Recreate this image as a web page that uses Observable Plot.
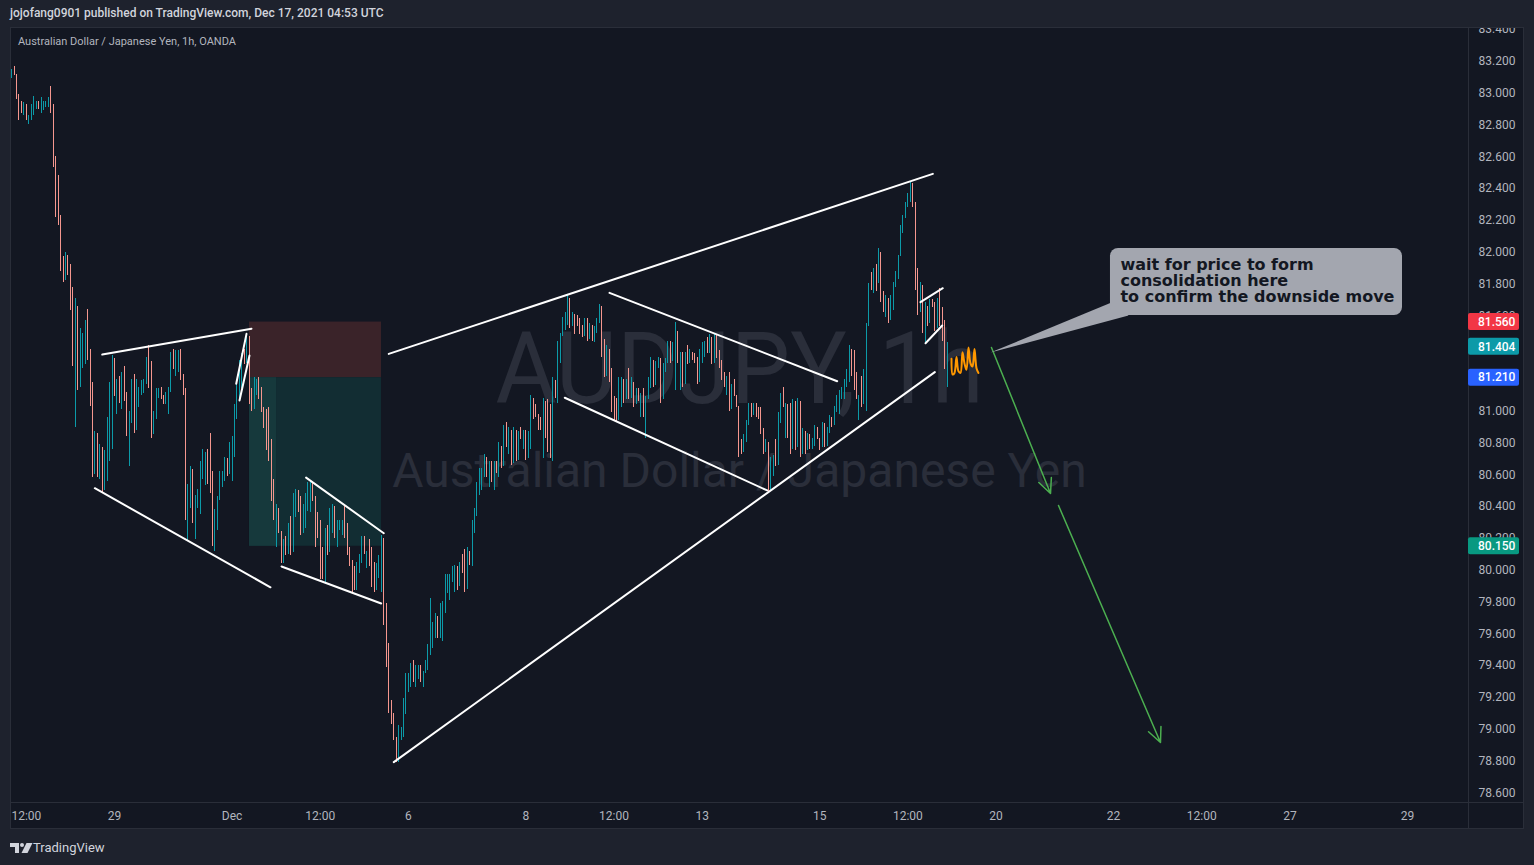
<!DOCTYPE html>
<html>
<head>
<meta charset="utf-8">
<script src="https://cdn.jsdelivr.net/npm/d3@7"></script>
<script src="https://cdn.jsdelivr.net/npm/@observablehq/plot@0.6"></script>
<style>
  html, body { margin:0; padding:0; width:1534px; height:865px; background:#1e222d; overflow:hidden; font-family: Roboto, "Noto Sans", sans-serif; }
  #header { position:absolute; left:10px; top:6px; font-size:12px; font-weight:500; color:#d1d4dc; white-space:nowrap; }
  #frame { position:absolute; left:10px; top:27px; width:1514px; height:802px; background:#131722; }
  #frame svg { position:absolute; left:0; top:0; }
  #legend { position:absolute; left:8px; top:8px; font-size:11px; color:#b2b5be; white-space:nowrap; z-index:2; }
  #border { position:absolute; left:0; top:0; width:1514px; height:802px; box-sizing:border-box; border:1px solid #2a2e39; pointer-events:none; z-index:3; }
  #footer { position:absolute; left:10px; top:840px; display:flex; align-items:center; gap:0px; color:#d1d4dc; font-size:13px; }
</style>
</head>
<body>
<div id="header">jojofang0901 published on TradingView.com, Dec 17, 2021 04:53 UTC</div>
<div id="frame">
  <div id="legend">Australian Dollar / Japanese Yen, 1h, OANDA</div>
  <div id="border"></div>
</div>
<div id="footer">
  <svg width="23" height="12" viewBox="0 0 23 12"><path d="M0 1h9v10h-4v-6h-5z" fill="#d1d4dc"/><circle cx="12" cy="3" r="2" fill="#d1d4dc"/><path d="M16.5 1h6l-5 10h-6z" fill="#d1d4dc"/></svg>
  <span>TradingView</span>
</div>
<script>
// ---------- hourly AUD/JPY bars (first bar = 42 trading hours before Nov 29 00:00) ----------
const firstBarHour = -42;
const firstOpen = 83.12;
const highs = [
83.15,83.17,83.12,82.99,82.95,82.94,82.93,82.86,82.93,82.98,
82.95,82.95,82.97,82.95,82.95,82.97,83.04,82.93,82.60,82.48,
82.23,81.97,82.00,81.94,81.92,81.78,81.71,81.66,81.52,81.49,
81.57,81.64,81.39,81.18,80.87,80.86,80.79,80.70,80.75,80.96,
81.18,81.35,81.31,81.20,81.22,81.24,81.28,81.12,81.00,81.20,
81.23,81.20,81.15,81.19,81.20,81.34,81.41,81.31,81.00,81.14,
81.14,81.15,81.10,81.12,81.15,81.37,81.39,81.38,81.38,81.39,
81.23,81.14,80.54,80.65,80.63,80.47,80.51,80.68,80.76,80.74,
80.76,80.86,80.62,80.38,80.46,80.62,80.62,80.71,80.70,80.80,
80.84,81.04,81.18,81.32,81.36,81.39,81.49,81.38,81.14,81.21,
81.20,81.21,81.15,81.02,81.01,81.02,80.82,80.57,80.41,80.35,
80.23,80.19,80.21,80.29,80.34,80.48,80.51,80.48,80.46,80.41,
80.48,80.55,80.56,80.54,80.46,80.36,80.31,80.14,80.26,80.28,
80.39,80.41,80.31,80.31,80.31,80.31,80.41,80.29,80.14,80.06,
80.02,80.05,80.10,80.21,80.21,80.12,80.19,80.14,80.05,80.04,
80.09,80.22,80.14,79.79,79.54,79.18,79.10,78.95,79.02,79.01,
79.19,79.35,79.35,79.41,79.43,79.40,79.40,79.40,79.36,79.43,
79.53,79.82,79.67,79.73,79.67,79.79,79.80,79.97,79.97,79.97,
80.02,80.03,79.97,80.05,80.10,80.13,80.14,80.11,80.31,80.39,
80.55,80.64,80.64,80.73,80.68,80.68,80.68,80.68,80.68,80.80,
80.78,80.91,80.93,80.90,80.87,80.90,80.87,80.87,80.90,80.88,
80.88,80.87,81.10,81.05,81.04,80.98,80.96,81.08,80.93,81.07,
81.04,81.21,81.19,81.44,81.49,81.59,81.62,81.73,81.61,81.62,
81.60,81.60,81.58,81.54,81.58,81.58,81.55,81.54,81.53,81.58,
81.67,81.61,81.45,81.41,81.34,81.27,81.09,81.08,81.21,81.21,
81.14,81.20,81.27,81.21,81.13,81.14,81.14,81.11,81.14,81.09,
81.21,81.34,81.27,81.31,81.34,81.31,81.30,81.33,81.44,81.44,
81.43,81.56,81.49,81.37,81.37,81.37,81.41,81.39,81.37,81.36,
81.34,81.39,81.43,81.44,81.46,81.48,81.43,81.49,81.44,81.38,
81.32,81.24,81.22,81.24,81.17,81.20,81.10,80.97,80.82,80.85,
80.94,81.05,81.05,81.05,81.05,81.02,81.02,80.89,80.82,80.75,
80.71,80.72,80.82,80.99,81.11,81.15,81.05,81.02,81.05,81.07,
81.02,81.08,80.98,80.89,80.83,80.86,80.85,80.83,80.91,80.90,
80.83,80.93,80.87,80.90,80.97,80.95,81.03,81.10,81.13,81.15,
81.20,81.26,81.41,81.35,81.38,81.24,81.10,81.22,81.26,81.55,
81.80,81.87,81.90,81.92,82.02,81.97,81.75,81.73,81.71,81.73,
81.81,81.88,81.98,82.17,82.23,82.31,82.37,82.44,82.40,82.31,
81.90,81.81,81.70,81.68,81.63,81.70,81.70,81.68,81.71,81.77,
81.65,81.57,81.43
];
const lows = [
83.09,83.11,82.96,82.83,82.87,82.86,82.83,82.80,82.83,82.86,
82.90,82.90,82.87,82.89,82.91,82.91,82.87,82.53,82.22,82.17,
81.88,81.81,81.85,81.85,81.63,81.28,80.90,81.13,81.22,81.27,
81.29,81.32,81.03,80.58,80.63,80.58,80.57,80.48,80.52,80.56,
80.68,80.76,81.09,80.98,81.05,81.01,81.06,80.84,80.65,80.92,
80.86,80.91,81.02,81.10,81.11,81.17,81.14,80.83,80.85,80.95,
81.08,81.07,81.04,81.04,80.98,81.12,81.26,81.22,81.24,81.19,
81.10,80.31,80.18,80.39,80.29,80.19,80.39,80.35,80.57,80.53,
80.54,80.48,80.15,80.12,80.25,80.44,80.52,80.56,80.59,80.61,
80.56,80.71,80.95,81.07,81.14,81.29,81.31,81.04,81.00,81.05,
81.10,81.07,80.99,80.89,80.75,80.68,80.43,80.31,80.14,80.23,
80.04,80.04,80.09,80.14,80.09,80.15,80.33,80.36,80.22,80.23,
80.26,80.37,80.36,80.43,80.14,80.20,79.94,79.94,79.92,80.09,
80.13,80.23,80.20,80.14,80.25,80.22,80.20,80.09,80.02,79.85,
79.87,79.87,79.98,80.04,80.10,80.01,80.02,79.89,79.86,79.87,
79.95,79.86,79.65,79.39,79.10,79.03,78.93,78.79,78.79,78.93,
78.95,79.09,79.23,79.26,79.29,79.26,79.31,79.29,79.26,79.37,
79.37,79.46,79.51,79.57,79.57,79.57,79.55,79.73,79.85,79.81,
79.92,79.86,79.87,79.95,79.98,79.86,79.92,80.03,80.02,80.23,
80.34,80.47,80.50,80.58,80.58,80.52,80.55,80.50,80.61,80.58,
80.64,80.73,80.77,80.73,80.66,80.72,80.68,80.76,80.82,80.76,
80.69,80.73,80.76,80.95,80.96,80.88,80.88,80.70,80.83,80.74,
80.70,80.68,81.08,81.05,81.30,81.48,81.51,81.54,81.52,81.53,
81.48,81.53,81.48,81.46,81.47,81.44,81.48,81.44,81.43,81.49,
81.55,81.34,81.21,81.22,81.18,80.99,80.94,80.93,80.95,81.02,
81.05,81.12,81.07,81.08,81.02,81.09,81.06,80.96,80.96,80.83,
81.08,81.14,81.15,81.21,81.27,81.05,81.19,81.24,81.30,81.30,
81.32,81.13,81.30,81.13,81.15,81.28,81.29,81.31,81.32,81.30,
81.17,81.27,81.30,81.34,81.36,81.36,81.29,81.41,81.33,81.27,
81.19,81.15,81.10,81.00,81.09,81.09,81.02,80.71,80.73,80.74,
80.80,80.91,80.96,80.97,80.96,80.95,80.85,80.73,80.74,80.48,
80.61,80.59,80.65,80.70,80.92,81.02,80.83,80.83,80.73,80.96,
80.75,80.82,80.71,80.76,80.73,80.76,80.76,80.76,80.78,80.82,
80.75,80.83,80.77,80.78,80.86,80.90,80.93,80.99,80.98,81.07,
81.07,81.15,81.18,81.22,81.13,81.07,80.94,81.02,81.11,81.00,
81.53,81.76,81.74,81.75,81.80,81.68,81.62,81.59,81.55,81.65,
81.63,81.78,81.83,82.01,82.12,82.21,82.28,82.31,82.28,81.76,
81.60,81.65,81.49,81.43,81.53,81.59,81.65,81.50,81.57,81.53,
81.44,81.26,81.15
];
const closes = [
83.14,83.12,82.97,82.90,82.88,82.93,82.84,82.85,82.92,82.93,
82.94,82.91,82.93,82.94,82.95,82.96,82.88,82.55,82.24,82.18,
81.89,81.82,81.98,81.86,81.64,81.30,81.45,81.15,81.40,81.47,
81.55,81.34,81.05,80.60,80.85,80.60,80.77,80.50,80.73,80.94,
81.16,81.33,81.11,81.18,81.07,81.22,81.08,80.86,80.98,81.18,
80.88,81.10,81.14,81.18,81.19,81.32,81.16,80.85,80.98,81.12,
81.13,81.08,81.05,81.11,81.14,81.35,81.27,81.36,81.37,81.21,
81.11,80.33,80.52,80.63,80.31,80.45,80.50,80.66,80.70,80.73,
80.56,80.50,80.17,80.36,80.44,80.60,80.61,80.69,80.60,80.78,
80.82,81.02,81.16,81.30,81.34,81.30,81.47,81.06,81.01,81.15,
81.19,81.08,81.00,80.90,80.77,80.70,80.45,80.33,80.39,80.24,
80.05,80.17,80.10,80.27,80.11,80.46,80.50,80.37,80.24,80.39,
80.46,80.53,80.55,80.44,80.30,80.22,79.96,79.95,80.24,80.11,
80.37,80.40,80.21,80.29,80.30,80.31,80.21,80.10,80.03,79.95,
79.88,80.03,80.09,80.19,80.11,80.12,80.03,79.90,79.87,80.02,
80.08,80.20,79.67,79.41,79.12,79.04,78.94,78.80,79.00,79.01,
79.17,79.33,79.34,79.40,79.30,79.38,79.39,79.30,79.35,79.42,
79.51,79.60,79.65,79.71,79.60,79.77,79.79,79.95,79.96,79.97,
80.01,80.02,79.90,80.04,79.99,79.88,80.12,80.04,80.29,80.37,
80.53,80.62,80.63,80.71,80.59,80.66,80.56,80.66,80.62,80.78,
80.65,80.89,80.78,80.88,80.67,80.88,80.69,80.85,80.83,80.87,
80.70,80.85,81.08,81.00,80.97,80.89,80.88,81.06,80.85,80.76,
80.72,81.19,81.09,81.42,81.47,81.58,81.61,81.71,81.53,81.61,
81.56,81.54,81.49,81.47,81.56,81.45,81.53,81.45,81.52,81.57,
81.66,81.36,81.23,81.39,81.19,81.00,80.95,80.94,81.19,81.20,
81.07,81.18,81.08,81.18,81.04,81.12,81.07,81.10,80.98,81.07,
81.19,81.32,81.16,81.29,81.33,81.07,81.28,81.32,81.42,81.31,
81.41,81.50,81.32,81.35,81.17,81.35,81.30,81.37,81.33,81.31,
81.18,81.37,81.41,81.43,81.37,81.46,81.30,81.48,81.34,81.28,
81.20,81.16,81.21,81.01,81.16,81.10,81.03,80.79,80.74,80.84,
80.93,81.04,80.98,81.03,80.98,80.96,80.86,80.74,80.80,80.50,
80.70,80.71,80.66,80.98,81.09,81.03,81.04,80.85,80.76,81.06,
80.77,81.06,80.73,80.87,80.75,80.85,80.77,80.82,80.90,80.83,
80.77,80.92,80.78,80.89,80.96,80.91,81.02,81.09,81.12,81.14,
81.19,81.25,81.39,81.24,81.15,81.08,81.09,81.04,81.25,81.53,
81.78,81.77,81.89,81.80,82.00,81.70,81.63,81.70,81.57,81.72,
81.80,81.87,81.97,82.16,82.22,82.30,82.36,82.43,82.30,81.78,
81.62,81.79,81.51,81.66,81.55,81.68,81.66,81.52,81.69,81.55,
81.46,81.28,81.404
];

// ---------- axes ----------
const yTickValues = [83.4,83.2,83.0,82.8,82.6,82.4,82.2,82.0,81.8,81.6,81.4,81.2,81.0,80.8,80.6,80.4,80.2,80.0,79.8,79.6,79.4,79.2,79.0,78.8,78.6];
const xTickDays = [-1.5,0,2,3.5,5,7,8.5,10,12,13.5,15,17,18.5,20,22];
const xTickLabels = ["12:00","29","Dec","12:00","6","8","12:00","13","15","12:00","20","22","12:00","27","29"];

// ---------- drawings (time in trading days from Nov 29, price) ----------
const lineStartT = [-0.209,-0.335,2.071,2.127,3.260,2.842,4.667,4.752,8.423,7.662,13.714,13.800];
const lineStartP = [81.356,80.515,81.172,81.067,80.582,80.023,81.360,78.792,81.744,81.084,81.685,81.427];
const lineEndT   = [2.331,2.654,2.246,2.297,4.582,4.538,13.924,13.958,12.297,11.106,14.094,14.084];
const lineEndP   = [81.518,79.892,81.486,81.350,80.232,79.790,82.492,81.245,81.188,80.501,81.773,81.538];

const squiggleT = [14.242,14.262,14.293,14.327,14.361,14.395,14.429,14.463,14.497,14.531,14.565,14.599,14.633,14.667,14.701];
const squiggleP = [81.330,81.230,81.240,81.340,81.250,81.240,81.370,81.300,81.260,81.400,81.300,81.280,81.390,81.270,81.240];

const arrowStartT = [14.922,16.063];
const arrowStartP = [81.400,80.406];
const arrowEndT   = [15.927,17.798];
const arrowEndP   = [80.482,78.916];

const positionStartT = 2.297, positionEndT = 4.543, positionRealizedT = 2.757;
const stopPrice = 81.56, entryPrice = 81.21, targetPrice = 80.15, lastPrice = 81.404;

const calloutText = "wait for price to form\nconsolidation here\nto confirm the downside move";
const calloutT1 = 16.947, calloutT2 = 21.916, calloutTop = 82.023, calloutBottom = 81.601;
const calloutTailT = [14.905,16.964,17.254];
const calloutTailP = [81.368,81.683,81.601];

const watermarkTitle = "AUDJPY, 1h";
const watermarkSubtitle = "Australian Dollar / Japanese Yen";

// ---------- build ----------
const UP = "#0c9aa8", DOWN = "#f5978f";
const bars = highs.map((h, i) => {
  const open = i === 0 ? firstOpen : closes[i - 1];
  const close = closes[i];
  return {t: (firstBarHour + i) / 24, open, close, high: h, low: lows[i], up: close >= open};
});
const trendLines = lineStartT.map((t, i) => ({t1: t, p1: lineStartP[i], t2: lineEndT[i], p2: lineEndP[i]}));
const squiggle = squiggleT.map((t, i) => ({t, p: squiggleP[i]}));
const arrows = arrowStartT.map((t, i) => ({t1: t, p1: arrowStartP[i], t2: arrowEndT[i], p2: arrowEndP[i]}));
const zones = [
  {t1: positionStartT, t2: positionEndT, p1: entryPrice, p2: stopPrice, c: "#3a2329"},
  {t1: positionStartT, t2: positionEndT, p1: targetPrice, p2: entryPrice, c: "#122d33"},
  {t1: positionStartT, t2: positionRealizedT, p1: targetPrice, p2: entryPrice, c: "#16393c"}
];
const tail = calloutTailT.map((t, i) => ({t, p: calloutTailP[i]}));
const callout = [{t1: calloutT1, t2: calloutT2, p1: calloutBottom, p2: calloutTop, text: calloutText}];
const priceLabels = [
  {v: stopPrice, c: "#f23645"},
  {v: lastPrice, c: "#0c9aa8"},
  {v: entryPrice, c: "#2962ff"},
  {v: targetPrice, c: "#089981"}
];

const plot = Plot.plot({
  width: 1514, height: 802,
  marginLeft: 0, marginRight: 56, marginTop: 0, marginBottom: 27,
  x: {domain: [-1.7696, 23.039], axis: null},
  y: {domain: [78.5384, 83.4126], axis: null},
  color: {type: "identity"},
  style: {background: "transparent", color: "#b2b5be", fontFamily: "Roboto, sans-serif", fontSize: "12px", overflow: "hidden"},
  marks: [
    Plot.text([watermarkTitle], {text: d => d, frameAnchor: "middle", dy: -44, fontSize: 100, fill: "#2a2e3a", fontFamily: "Roboto"}),
    Plot.text([watermarkSubtitle], {text: d => d, frameAnchor: "middle", dy: 57, fontSize: 48, fill: "#2a2e3a", fontFamily: "Roboto"}),
    Plot.rect(zones, {x1: "t1", x2: "t2", y1: "p1", y2: "p2", fill: "c"}),
    Plot.ruleX(bars, {x: "t", y1: d => Math.min(d.low, d.open, d.close), y2: d => Math.max(d.high, d.open, d.close),
      stroke: d => d.up ? UP : DOWN, strokeWidth: 1, shapeRendering: "crispEdges"}),
    Plot.link(trendLines, {x1: "t1", y1: "p1", x2: "t2", y2: "p2", stroke: "#ffffff", strokeWidth: 2, strokeLinecap: "round"}),
    Plot.line(squiggle, {x: "t", y: "p", stroke: "#ff9800", strokeWidth: 2, curve: "catmull-rom"}),
    Plot.arrow(arrows, {x1: "t1", y1: "p1", x2: "t2", y2: "p2", stroke: "#4caf50", strokeWidth: 1.5, headLength: 16, headAngle: 50}),
    Plot.line(tail, {x: "t", y: "p", fill: "#a3a6af", stroke: "none"}),
    Plot.rect(callout, {x1: "t1", x2: "t2", y1: "p1", y2: "p2", fill: "#a3a6af", rx: 8}),
    Plot.text(callout, {x: "t1", y: "p2", text: "text", dx: 10, dy: 10, lineAnchor: "top", textAnchor: "start",
      fontSize: 16, fontWeight: "bold", fontFamily: "DejaVu Sans", fill: "#131722", lineHeight: 1}),
    Plot.axisY(yTickValues, {anchor: "right", tickSize: 0, tickPadding: 10, tickFormat: d => d.toFixed(3), fontSize: 12}),
    Plot.axisX(xTickDays, {anchor: "bottom", tickSize: 0, tickPadding: 9, tickFormat: d => xTickLabels[xTickDays.indexOf(d)], fontSize: 12})
  ]
});

const svg = d3.select(plot);
svg.selectAll("text").filter(function() { return this.textContent === watermarkTitle; })
  .attr("textLength", 488).attr("lengthAdjust", "spacingAndGlyphs");

// pane separators
svg.append("line").attr("x1", 1458.5).attr("x2", 1458.5).attr("y1", 0).attr("y2", 802).attr("stroke", "#2a2e39");
svg.append("line").attr("x1", 0).attr("x2", 1514).attr("y1", 775.5).attr("y2", 775.5).attr("stroke", "#2a2e39");

// price labels on the axis, positioned through the y scale
const yScale = plot.scale("y");
const lg = svg.append("g");
priceLabels.forEach(({v, c}) => {
  const yy = yScale.apply(v);
  lg.append("rect").attr("x", 1458).attr("y", yy - 8.5).attr("width", 51).attr("height", 17).attr("rx", 2).attr("fill", c);
  lg.append("text").attr("x", 1468).attr("y", yy).attr("dy", "0.35em").attr("fill", "#ffffff")
    .attr("text-anchor", "start").attr("font-size", 12).attr("font-family", "Roboto, sans-serif")
    .attr("font-weight", 500).text(v.toFixed(3));
});

document.getElementById("frame").insertBefore(plot, document.getElementById("legend"));
</script>
</body>
</html>
